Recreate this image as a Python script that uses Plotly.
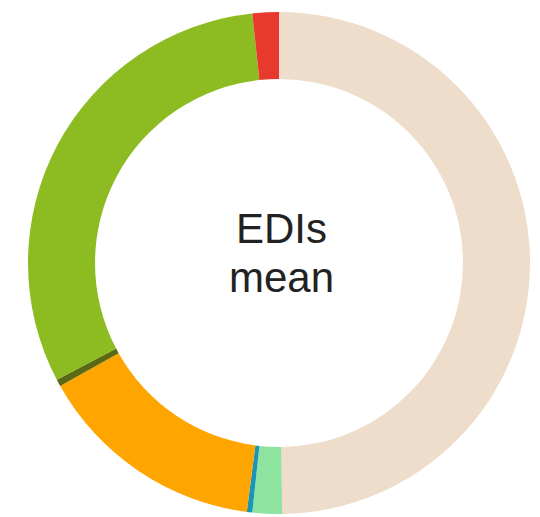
import plotly.graph_objects as go

labels = ["Beige", "Light green", "Teal", "Orange", "Olive", "Green", "Red"]
values = [49.8, 1.9, 0.35, 14.8, 0.45, 31.0, 1.7]
colors = ["#EEDDCB", "#8EE3A0", "#1A95B5", "#FFA500", "#5B6A12", "#8DBB22", "#E8392E"]
center_text = ["EDIs", "mean"]

W, H = 540, 517
cx, cy, r = 279, 263, 251

fig = go.Figure(go.Pie(
    labels=labels, values=values, sort=False, direction="clockwise", rotation=0,
    hole=0.733, marker=dict(colors=colors, line=dict(width=0)),
    textinfo="none", hoverinfo="label+percent", showlegend=False,
    domain=dict(x=[(cx - r) / W, (cx + r) / W], y=[1 - (cy + r) / H, 1 - (cy - r) / H]),
))
for txt, anchor in zip(center_text, ["bottom", "top"]):
    fig.add_annotation(text=txt, x=281 / W, y=1 - 253 / H, xref="paper", yref="paper",
                       showarrow=False, yanchor=anchor, borderpad=0,
                       font=dict(family="Liberation Sans, Arial", size=42, color="#222222"))
fig.update_layout(width=W, height=H, margin=dict(l=0, r=0, t=0, b=0),
                  paper_bgcolor="white", plot_bgcolor="white")
fig.write_html("out.html")
